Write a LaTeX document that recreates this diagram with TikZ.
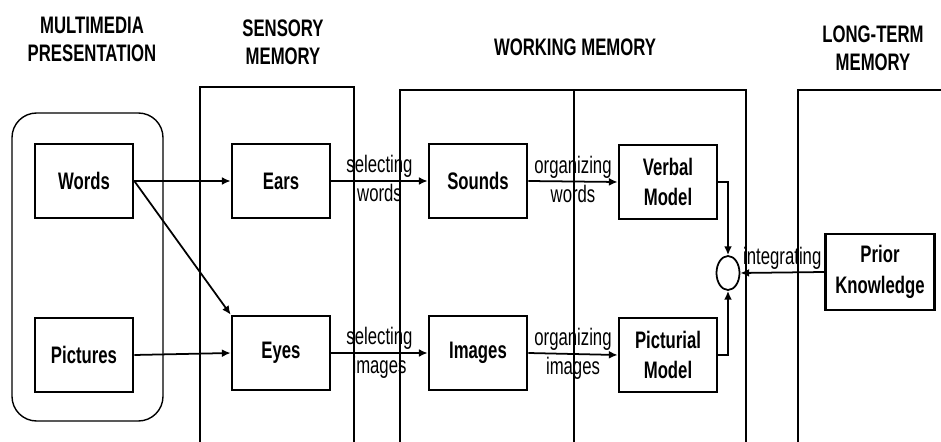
\documentclass[tikz,border=0pt]{standalone}
\usepackage{fontspec}
\setmainfont{Liberation Sans}[FakeStretch=0.7]
\usetikzlibrary{arrows.meta,shapes.geometric}

\begin{document}
\begin{tikzpicture}[x=0.02cm,y=-0.02cm,
  head/.style={font=\fontsize{13.6}{16}\selectfont\bfseries,align=center},
  box/.style={draw,line width=1.5pt,minimum width=1.96cm,minimum height=1.48cm,
    font=\fontsize{13.6}{17.5}\selectfont\bfseries,align=center},
  lbl/.style={font=\fontsize{13.6}{15}\selectfont,inner sep=1.5pt},
  frame/.style={line width=0.8pt},
  flow/.style={line width=1pt,-{Latex[length=5pt,width=4.5pt]}}]
\useasboundingbox (0,0) rectangle (941,442);
% Headings
\node[head] (hmulti) at (92,39) {MULTIMEDIA\\PRESENTATION};
\node[head] (hsens) at (283,42) {SENSORY\\MEMORY};
\node[head] (hwork) at (575,47) {WORKING MEMORY};
\node[head] (hlong) at (873,48) {LONG-TERM\\MEMORY};
% Frames
\draw[frame,rounded corners=14] (12,113) rectangle (163,421);
\draw[frame] (200,442) |- (354,87) -- (354,442);
\draw[frame] (400,442) |- (746,90) -- (746,442);
\draw[frame] (574,90) -- (574,442);
\draw[frame] (941,90) -| (798,442);
% Boxes
\node[box] (words) at (84,181) {Words};
\node[box] (pictures) at (84,355) {Pictures};
\node[box] (ears) at (281,181) {Ears};
\node[box] (eyes) at (281,353) {Eyes};
\node[box] (sounds) at (478,181) {Sounds};
\node[box] (images) at (478,353) {Images};
\node[box] (verbal) at (668,182) {Verbal\\Model};
\node[box] (picturial) at (668,355) {Picturial\\Model};
\node[draw,line width=1pt,ellipse,minimum width=0.46cm,minimum height=0.68cm,inner sep=0pt] (join) at (728,273) {};
\node[box,minimum width=2.18cm,minimum height=1.52cm] (prior) at (880,272) {Prior\\Knowledge};
% Arrows
\draw[flow] (words.east) -- (ears.west);
\draw[flow] (words.east) -- (eyes.north west);
\draw[flow] (pictures.east) -- (eyes.west);
\draw[flow] (ears.east) -- node[lbl,above] {selecting} node[lbl,below] {words} (sounds.west);
\draw[flow] (eyes.east) -- node[lbl,above] {selecting} node[lbl,below] {images} (images.west);
\draw[flow] (sounds.east) -- node[lbl,above] {organizing} node[lbl,below] {words} (verbal.west);
\draw[flow] (images.east) -- node[lbl,above] {organizing} node[lbl,below] {images} (picturial.west);
\draw[flow] (verbal.east) -| (join.north);
\draw[flow] (picturial.east) -| (join.south);
\draw[flow] (prior.west) -- node[lbl,above] {integrating} (join.east);
\end{tikzpicture}
\end{document}
